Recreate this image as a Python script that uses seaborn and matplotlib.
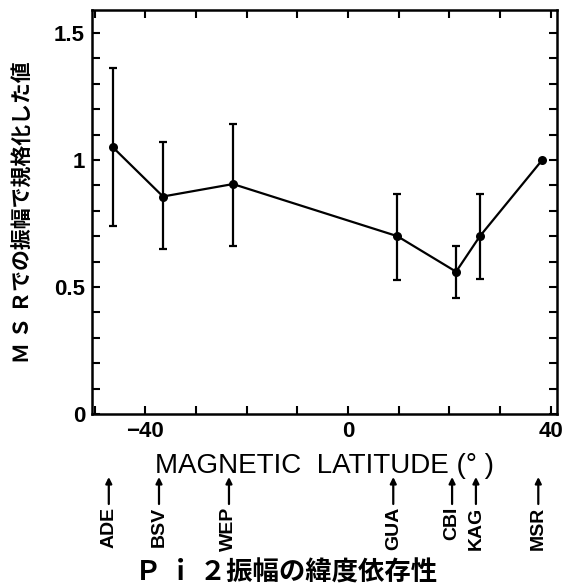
import numpy as np
import pandas as pd
import matplotlib
matplotlib.use('Agg')
import matplotlib.pyplot as plt
import matplotlib.transforms as mtransforms
from matplotlib.ticker import MultipleLocator
import seaborn as sns

# ---- data ----
stations = ['ADE', 'BSV', 'WEP', 'GUA', 'CBI', 'KAG', 'MSR']
mag_lat = [-46.4, -36.5, -22.7, 9.7, 21.3, 26.0, 38.3]
norm_amp = [1.05, 0.856, 0.905, 0.70, 0.56, 0.70, 1.0]
err_upper = [1.36, 1.07, 1.14, 0.864, 0.66, 0.864, 1.0]
err_lower = [0.74, 0.65, 0.66, 0.528, 0.456, 0.532, 1.0]
x_ticks = [-40, 0, 40]
x_tick_labels = ['\u221240', '0', '40']
y_ticks = [0, 0.5, 1, 1.5]
y_tick_labels = ['0', '0.5', '1', '1.5']
x_label = 'MAGNETIC  LATITUDE (\u00b0 )'
y_label = 'Ｍ Ｓ Ｒでの振幅で規格化した値'
title = 'Ｐ ｉ ２振幅の緯度依存性'

sns.set_style('ticks')
plt.rcParams['font.family'] = ['Liberation Sans', 'DejaVu Sans']
plt.rcParams.update({'text.color': 'black', 'axes.labelcolor': 'black',
                     'xtick.color': 'black', 'ytick.color': 'black',
                     'xtick.labelcolor': 'black', 'ytick.labelcolor': 'black'})
cjk = ['Noto Sans CJK JP', 'DejaVu Sans']

W, H = 562, 586
fig = plt.figure(figsize=(W / 100, H / 100), dpi=100)
ax = fig.add_axes([92 / W, 1 - 414 / H, 465 / W, 404 / H])

df = pd.DataFrame({'lat': mag_lat, 'amp': norm_amp,
                   'hi': err_upper, 'lo': err_lower, 'station': stations})

sns.lineplot(data=df, x='lat', y='amp', color='black', lw=1.6,
             marker='o', markersize=6.5, markeredgewidth=0, ax=ax)

eb = df[df['hi'] > df['lo']]
ax.errorbar(eb['lat'], eb['amp'],
            yerr=[eb['amp'] - eb['lo'], eb['hi'] - eb['amp']],
            fmt='none', ecolor='black', elinewidth=1.6, capsize=3, capthick=1.6)

ax.set_xlim(-50.5, 41.2)
ax.set_ylim(0, 1.59)
ax.set_xticks(x_ticks, x_tick_labels)
ax.set_yticks(y_ticks, y_tick_labels)
ax.xaxis.set_minor_locator(MultipleLocator(10))
ax.yaxis.set_minor_locator(MultipleLocator(0.1))
ax.tick_params(which='both', direction='in', top=True, right=True,
               length=6, width=1.5, color='black', labelcolor='black')
ax.tick_params(which='major', labelsize=16, pad=5)
for lab in ax.get_xticklabels() + ax.get_yticklabels():
    lab.set_fontweight('bold')
for s in ax.spines.values():
    s.set_linewidth(1.8)
    s.set_color('black')

ax.set_xlabel(x_label, fontsize=20, labelpad=8, color='black')
ax.set_ylabel(y_label, fontsize=15, family=cjk, fontweight='bold', color='black')
ax.yaxis.set_label_coords(-0.125, 0.5)

# station markers below the axis
trans = mtransforms.blended_transform_factory(ax.transData, fig.transFigure)
trans_off = mtransforms.offset_copy(trans, x=-4, y=0, units='dots')
for name, lat in zip(stations, mag_lat):
    ax.text(lat, 1 - 507 / H, name, rotation=90, ha='center', va='top',
            transform=trans_off, fontsize=14, fontweight='bold', clip_on=False,
            color='black')
    ax.annotate('', xy=(lat, 1 - 477 / H), xytext=(lat, 1 - 504 / H),
                xycoords=trans_off, textcoords=trans_off,
                arrowprops=dict(arrowstyle='-|>', color='black', lw=1.6,
                                mutation_scale=9, shrinkA=0, shrinkB=0))

fig.text(0.509, 1 - 573 / H, title, ha='center', va='center', fontsize=19,
         fontweight='bold', family=cjk, color='black')

fig.savefig('out.png', dpi=100)
